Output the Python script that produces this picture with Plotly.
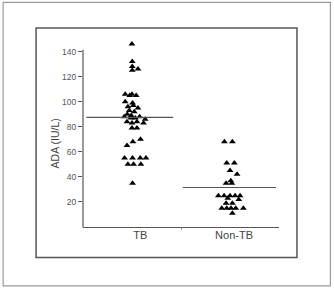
import plotly.graph_objects as go

# ---- data ----
categories = ["TB", "Non-TB"]
tb_values = [146, 132, 128, 126, 125,
             106, 105, 106, 105,
             100, 99,
             96, 95, 97,
             93, 92,
             90, 89,
             88, 87, 88, 86, 87,
             84, 83, 84, 83,
             79, 79,
             70, 68, 65,
             55, 55, 55, 55,
             50, 50, 50,
             35]
nontb_values = [68, 68, 51, 51, 45, 42, 37, 35, 35,
                25, 25, 25, 25, 25, 23, 22, 19, 19,
                15, 15, 15, 15, 15, 11]
group_means = [87.5, 31.5]
y_tick_values = [20, 40, 60, 80, 100, 120, 140]

# ---- horizontal scatter of the dots (layout, in category-spacing units) ----
tb_jitter = [-0.089, -0.085, -0.085, -0.024, -0.085,
             -0.160, -0.112, -0.088, -0.043,
             -0.160, -0.082,
             -0.131, -0.024, -0.074,
             -0.117, -0.064,
             -0.138, -0.096,
             -0.170, -0.099, -0.007, 0.053, -0.053,
             -0.141, -0.088, -0.035, 0.035,
             -0.088, -0.035,
             0.003, -0.078, -0.141,
             -0.167, -0.082, 0.0, 0.061,
             -0.131, -0.071, 0.007,
             -0.082]
nontb_jitter = [-0.103, -0.018, -0.078, 0.003, -0.043, 0.032, -0.035, -0.085, -0.024,
                -0.167, -0.106, -0.043, 0.011, 0.064, -0.067, 0.050, -0.085, -0.018,
                -0.131, -0.078, -0.032, 0.018, 0.099, -0.018]
mean_line_extent = [(-0.574, 0.351), (-0.546, 0.447)]

W, H = 334, 290
ML, MR, MT, MB = 82.7, 55, 39.2, 63.3
PW, PH = W - ML - MR, H - MT - MB


def px_x(px):
    return (px - ML) / PW


def px_y(py):
    return (H - MB - py) / PH


fig = go.Figure()
groups = [(tb_values, tb_jitter), (nontb_values, nontb_jitter)]
for i, (vals, jit) in enumerate(groups):
    pos = i + 1
    fig.add_trace(go.Scatter(
        x=[pos + j for j in jit], y=vals, mode="markers",
        marker=dict(symbol="triangle-up", size=6, color="black"),
        showlegend=False, hoverinfo="y", cliponaxis=False))
    a, b = mean_line_extent[i]
    fig.add_trace(go.Scatter(
        x=[pos + a, pos + b], y=[group_means[i], group_means[i]], mode="lines",
        line=dict(color="#555555", width=1.2), showlegend=False, hoverinfo="skip"))

font_family = "Liberation Sans, Arial, sans-serif"

fig.update_layout(
    width=W, height=H,
    margin=dict(l=ML, r=MR, t=MT, b=MB, pad=0),
    paper_bgcolor="white", plot_bgcolor="white",
    font=dict(family=font_family, color="#444444"),
    xaxis=dict(range=[0.39, 2.479], tickvals=[1, 2], ticktext=categories,
               showgrid=False, zeroline=False, showline=True, linecolor="#555555",
               linewidth=1.2, ticks="", tickfont=dict(size=11, color="#444444"),
               ticklabelstandoff=-2, fixedrange=True),
    yaxis=dict(range=[0, 150], tickvals=y_tick_values, showgrid=False, zeroline=False,
               showline=False, ticks="outside", ticklen=4, tickcolor="#555555",
               tickwidth=1, tickfont=dict(size=8.5, color="#555555"), fixedrange=True),
    shapes=[
        # y-axis line (stops near the top tick)
        dict(type="line", xref="paper", yref="y", x0=0, x1=0, y0=0, y1=141.5,
             line=dict(color="#555555", width=1.2)),
        # small tick between the groups
        dict(type="line", xref="x", yref="paper", x0=1.44, x1=1.44, y0=0, y1=px_y(229),
             line=dict(color="#777777", width=1)),
        # inner frame
        dict(type="rect", xref="paper", yref="paper",
             x0=px_x(35.7), x1=px_x(297), y0=px_y(257), y1=px_y(28.3),
             line=dict(color="#555555", width=1.5), fillcolor="rgba(0,0,0,0)"),
        # outer frame
        dict(type="rect", xref="paper", yref="paper",
             x0=px_x(2.7), x1=px_x(330.5), y0=px_y(285.5), y1=px_y(2.7),
             line=dict(color="#9a9a9a", width=1.2), fillcolor="rgba(0,0,0,0)"),
    ],
    annotations=[
        dict(text="ADA (IU/L)", xref="paper", yref="paper", x=px_x(55), y=px_y(143),
             textangle=-90, showarrow=False, xanchor="center", yanchor="middle",
             font=dict(size=10.5, color="#444444")),
    ],
)

fig.write_html("out.html")
